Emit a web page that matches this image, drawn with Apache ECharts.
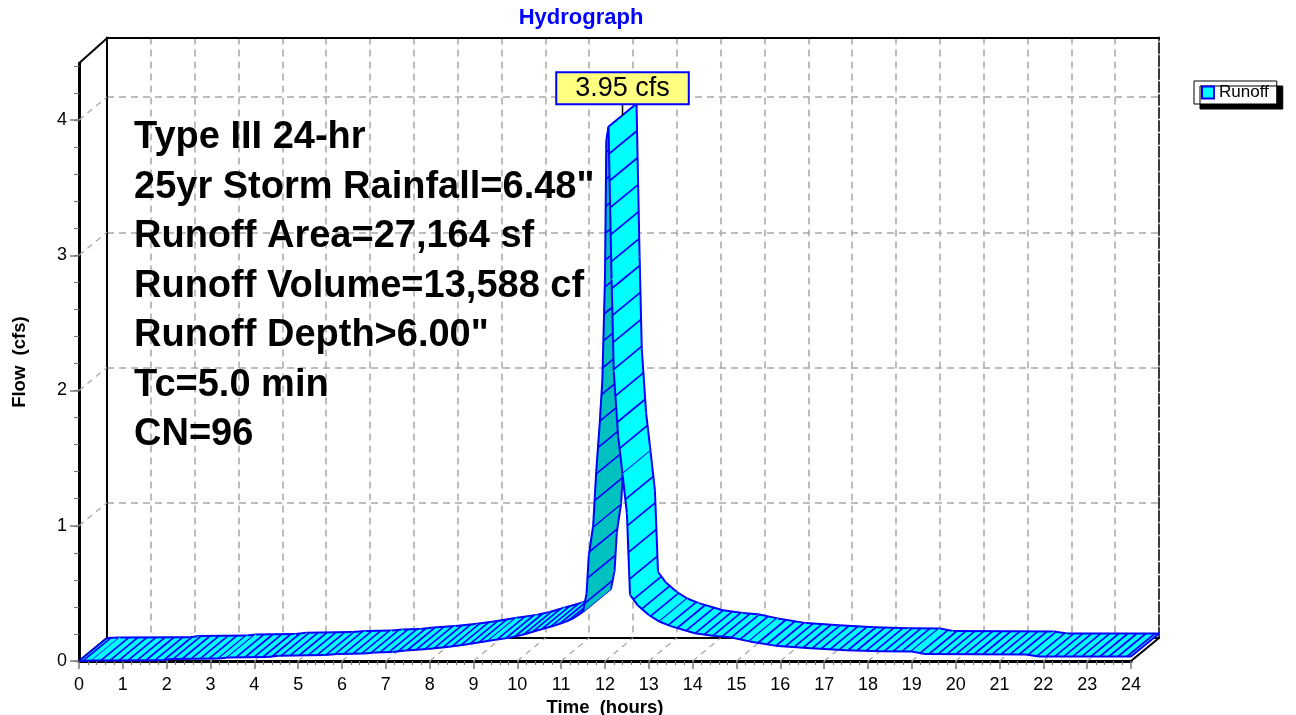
<!DOCTYPE html>
<html>
<head>
<meta charset="utf-8">
<script src="https://cdn.jsdelivr.net/npm/echarts@6/dist/echarts.min.js"></script>
<style>
html,body{margin:0;padding:0;background:#ffffff;}
#chart{width:1296px;height:715px;}
</style>
</head>
<body>
<div id="chart"></div>
<script>
// ---------------- DATA ----------------
const chartTitle = 'Hydrograph';
const seriesName = 'Runoff';
const xAxisName = 'Time  (hours)';
const yAxisName = 'Flow  (cfs)';
const peakUnit = 'cfs';

// Runoff hydrograph: time (hours) and flow (cfs)
const hours = [0.00, 0.30, 1.90, 2.10, 3.20, 3.40, 4.30, 4.55, 5.60, 5.90,
               6.50, 6.75, 7.15, 7.45, 7.95, 8.45, 8.90, 9.35, 9.80, 10.10,
               10.45, 10.85, 11.10, 11.30, 11.50, 11.58, 11.63, 11.73, 11.80, 11.88,
               11.94, 12.00, 12.03, 12.08, 12.15, 12.20, 12.30, 12.40, 12.50, 12.57,
               12.75, 13.00, 13.25, 13.50, 14.05, 14.50, 14.85, 15.30, 15.95, 16.70,
               17.50, 18.30, 19.00, 19.30, 21.60, 21.90, 24.00];
const flows = [0.000, 0.004, 0.006, 0.014, 0.018, 0.026, 0.030, 0.038, 0.044, 0.052,
               0.056, 0.063, 0.067, 0.077, 0.089, 0.106, 0.126, 0.149, 0.171, 0.192,
               0.226, 0.263, 0.290, 0.320, 0.365, 0.500, 0.780, 1.000, 1.400, 1.760,
               2.080, 2.840, 3.850, 3.950, 2.820, 2.140, 1.660, 1.380, 1.090, 0.490,
               0.410, 0.340, 0.290, 0.258, 0.205, 0.185, 0.175, 0.145, 0.110, 0.094,
               0.080, 0.072, 0.070, 0.052, 0.048, 0.034, 0.033];

const xTickValues = [0,1,2,3,4,5,6,7,8,9,10,11,12,13,14,15,16,17,18,19,20,21,22,23,24];
const yTickValues = [0,1,2,3,4];

const infoLines = [
  'Type III 24-hr',
  '25yr Storm Rainfall=6.48"',
  'Runoff Area=27,164 sf',
  'Runoff Volume=13,588 cf',
  'Runoff Depth>6.00"',
  'Tc=5.0 min',
  'CN=96'
];

// ---------------- STYLE ----------------
const FONT = '"Liberation Sans", Arial, Helvetica, sans-serif';
const DX = 28, DY = -23;          // depth offset of the 3D back plane
const HATCH = 9;                  // hatch spacing
const BLUE = '#0000FF';
const CYAN = '#00FFFF';
const DARK = '#00C0C0';
const GRIDGRAY = '#A8A8A8';

const seriesData = hours.map((h, k) => [h, flows[k]]);
let peakIdx = 0;
flows.forEach((f, k) => { if (f > flows[peakIdx]) peakIdx = k; });

function metric(a, b) {
  const dx = b[0] - a[0], dy = (b[1] - a[1]) / 3;
  return Math.sqrt(dx * dx + dy * dy);
}
function orient(a, b) {
  return (b[0] - a[0]) * DY - (b[1] - a[1]) * DX > 0; // true -> underside visible
}

function ribbonItem(params, api) {
  const i = params.dataIndex;
  const n = hours.length;
  if (i >= n - 1) return null;
  const pts = [];
  const lim = Math.min(n - 1, i + 2);
  for (let k = 0; k <= lim; k++) pts.push(api.coord([hours[k], flows[k]]));
  let s = 0;
  for (let k = 0; k < i; k++) s += metric(pts[k], pts[k + 1]);
  const a = pts[i], b = pts[i + 1];
  const a2 = [a[0] + DX, a[1] + DY], b2 = [b[0] + DX, b[1] + DY];
  const under = orient(a, b);
  const fill = under ? DARK : CYAN;
  const children = [];
  children.push({
    type: 'polygon',
    shape: { points: [a, b, b2, a2] },
    style: { fill: fill, stroke: fill, lineWidth: 0.8 }
  });
  const seg = metric(a, b);
  if (seg > 0) {
    let p = Math.ceil((s - 4) / HATCH) * HATCH + 4;
    if (p < s) p += HATCH;
    for (; p < s + seg; p += HATCH) {
      const t = (p - s) / seg;
      const fx = a[0] + t * (b[0] - a[0]);
      const fy = a[1] + t * (b[1] - a[1]);
      children.push({
        type: 'line',
        shape: { x1: fx, y1: fy, x2: fx + DX, y2: fy + DY },
        style: { stroke: BLUE, lineWidth: 1.7 }
      });
    }
  }
  children.push({ type: 'line', shape: { x1: a[0], y1: a[1], x2: b[0], y2: b[1] },
    style: { stroke: BLUE, lineWidth: 2 } });
  children.push({ type: 'line', shape: { x1: a2[0], y1: a2[1], x2: b2[0], y2: b2[1] },
    style: { stroke: BLUE, lineWidth: 2 } });
  if (i === 0) {
    children.push({ type: 'line', shape: { x1: a[0], y1: a[1], x2: a2[0], y2: a2[1] },
      style: { stroke: BLUE, lineWidth: 2 } });
  }
  if (i === n - 2) {
    children.push({ type: 'line', shape: { x1: b[0], y1: b[1], x2: b2[0], y2: b2[1] },
      style: { stroke: BLUE, lineWidth: 2 } });
  } else if (pts[i + 2] && orient(b, pts[i + 2]) !== under) {
    children.push({ type: 'line', shape: { x1: b[0], y1: b[1], x2: b[0] + DX, y2: b[1] + DY },
      style: { stroke: BLUE, lineWidth: 2 } });
  }
  return { type: 'group', children: children };
}

function frameItem(params, api) {
  if (params.dataIndex !== 0) return null;
  const children = [];
  const dash = { stroke: GRIDGRAY, lineWidth: 1.3, lineDash: [6, 5] };
  // floor diagonals
  xTickValues.forEach(h => {
    const c = api.coord([h, 0]);
    children.push({ type: 'line', shape: { x1: c[0], y1: c[1], x2: c[0] + DX, y2: c[1] + DY },
      style: (h === 0 || h === 24) ? { stroke: '#000', lineWidth: 2 } : dash });
  });
  // side-wall diagonals
  yTickValues.forEach(v => {
    if (v === 0) return;
    const c = api.coord([0, v]);
    children.push({ type: 'line', shape: { x1: c[0], y1: c[1], x2: c[0] + DX, y2: c[1] + DY },
      style: dash });
  });
  // top-left edge
  const top = api.coord([0, 4.42]);
  children.push({ type: 'line', shape: { x1: top[0], y1: top[1], x2: top[0] + DX, y2: top[1] + DY - 2 },
    style: { stroke: '#000', lineWidth: 2 } });
  return { type: 'group', children: children };
}

function peakItem(params, api) {
  const c = api.coord([hours[peakIdx], flows[peakIdx]]);
  const mx = c[0] + DX / 2, my = c[1] + DY / 2;
  return {
    type: 'group',
    children: [
      { type: 'line', shape: { x1: mx, y1: my, x2: mx, y2: my - 13 },
        style: { stroke: '#000', lineWidth: 1.5 } },
      { type: 'text', x: mx, y: my - 12,
        style: {
          text: flows[peakIdx].toFixed(2) + ' ' + peakUnit,
          fill: '#000', font: '27px ' + FONT,
          align: 'center', verticalAlign: 'bottom',
          backgroundColor: '#FFFF80', borderColor: BLUE, borderWidth: 2,
          padding: [2, 18, 1, 18]
        } }
    ]
  };
}

const chart = echarts.init(document.getElementById('chart'), null, { renderer: 'canvas' });

const GL = 79, GW = 1052;
const option = {
  animation: false,
  backgroundColor: '#ffffff',
  textStyle: { fontFamily: FONT },
  grid: [
    { left: GL, top: 63.2, width: GW, height: 597.8, containLabel: false, outerBoundsMode: 'none' },      // front plane
    { left: GL + DX, top: 37.5, width: GW, height: 600.5, containLabel: false, outerBoundsMode: 'none' }, // back wall
    { left: GL, top: 66, width: GW, height: 595, containLabel: false, outerBoundsMode: 'none' }           // minor ticks
  ],
  legend: {
    data: [{ name: seriesName, icon: 'rect',
      itemStyle: { color: CYAN, borderColor: BLUE, borderWidth: 2 } }],
    left: 1194, top: 81,
    padding: [3, 8, 3, 7],
    itemWidth: 12, itemHeight: 12, itemGap: 4,
    textStyle: { fontSize: 17, color: '#000', fontFamily: FONT },
    backgroundColor: '#ffffff', borderColor: '#000', borderWidth: 1,
    shadowColor: '#000', shadowOffsetX: 6, shadowOffsetY: 5, shadowBlur: 0,
    selectedMode: false
  },
  xAxis: [
    { gridIndex: 0, type: 'value', min: 0, max: 24, interval: 1,
      axisLine: { show: true, onZero: false, lineStyle: { color: '#000', width: 3 } },
      axisTick: { show: true, length: 8, lineStyle: { color: '#7a7a7a', width: 1.5 } },
      minorTick: { show: true, splitNumber: 5, length: 4, lineStyle: { color: '#7a7a7a', width: 1.2 } },
      axisLabel: { fontSize: 18, color: '#000', margin: 15, fontFamily: FONT },
      splitLine: { show: false },
      name: xAxisName, nameLocation: 'middle', nameGap: 33,
      nameTextStyle: { fontSize: 18.5, fontWeight: 'bold', color: '#000', fontFamily: FONT } },
    { gridIndex: 1, type: 'value', min: 0, max: 24, interval: 1,
      axisLine: { show: true, onZero: false, lineStyle: { color: '#000', width: 2 } },
      axisTick: { show: false }, axisLabel: { show: false },
      splitLine: { show: true, lineStyle: { color: GRIDGRAY, width: 1.5, type: [7, 5] } } },
    { gridIndex: 1, type: 'value', min: 0, max: 24, position: 'top',
      axisLine: { show: true, onZero: false, lineStyle: { color: '#000', width: 2 } },
      axisTick: { show: false }, axisLabel: { show: false }, splitLine: { show: false } },
    { gridIndex: 2, type: 'value', min: 0, max: 24, show: false }
  ],
  yAxis: [
    { gridIndex: 0, type: 'value', min: 0, max: 4.42, interval: 1,
      axisLine: { show: true, onZero: false, lineStyle: { color: '#000', width: 3 } },
      axisTick: { show: true, length: 9, customValues: yTickValues, lineStyle: { color: '#7a7a7a', width: 1.5 } },
      axisLabel: { fontSize: 18, color: '#000', margin: 12, customValues: yTickValues, fontFamily: FONT },
      splitLine: { show: false },
      name: yAxisName, nameLocation: 'middle', nameGap: 50,
      nameTextStyle: { fontSize: 18.5, fontWeight: 'bold', color: '#000', fontFamily: FONT } },
    { gridIndex: 1, type: 'value', min: 0, max: 4.44, interval: 1,
      axisLine: { show: true, onZero: false, lineStyle: { color: '#000', width: 2 } },
      axisTick: { show: false }, axisLabel: { show: false },
      splitLine: { show: true, lineStyle: { color: GRIDGRAY, width: 1.5, type: [7, 5] } } },
    { gridIndex: 1, type: 'value', min: 0, max: 4.44, position: 'right',
      axisLine: { show: true, onZero: false, lineStyle: { color: '#3a3a3a', width: 2, type: [10, 3] } },
      axisTick: { show: false }, axisLabel: { show: false }, splitLine: { show: false } },
    { gridIndex: 2, type: 'value', min: 0, max: 4.4, interval: 0.2,
      axisLine: { show: false },
      axisTick: { show: true, length: 5, lineStyle: { color: '#7a7a7a', width: 1.2 } },
      axisLabel: { show: false }, splitLine: { show: false } }
  ],
  graphic: [
    { type: 'text', x: 581, y: 18, z: 10,
      style: { text: chartTitle, fill: BLUE, font: 'bold 22px ' + FONT, align: 'center', verticalAlign: 'middle' } },
    { type: 'text', x: 134, y: 113, z: 10,
      style: { text: infoLines.join('\n'), fill: '#000', font: 'bold 38px ' + FONT,
        lineHeight: 49.5, align: 'left', verticalAlign: 'top' } }
  ],
  series: [
    { type: 'custom', name: 'frame', xAxisIndex: 0, yAxisIndex: 0, z: 1,
      silent: true, renderItem: frameItem, data: [[0, 0]], clip: false },
    { type: 'custom', name: seriesName, xAxisIndex: 0, yAxisIndex: 0, z: 3,
      itemStyle: { color: CYAN, borderColor: BLUE },
      renderItem: ribbonItem, data: seriesData, encode: { x: 0, y: 1 }, clip: false },
    { type: 'custom', name: 'peak', xAxisIndex: 0, yAxisIndex: 0, z: 6,
      renderItem: peakItem, data: [[hours[peakIdx], flows[peakIdx]]], clip: false }
  ]
};
chart.setOption(option);
</script>
</body>
</html>
